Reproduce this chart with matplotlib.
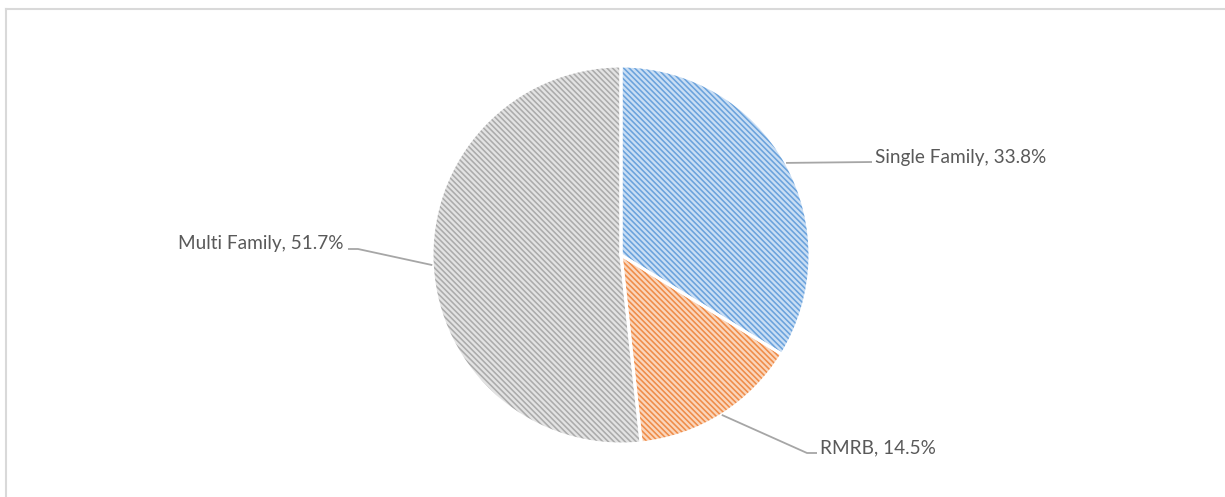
import numpy as np
import matplotlib
matplotlib.use("Agg")
import matplotlib.pyplot as plt
from matplotlib.lines import Line2D

categories = ["Single Family", "RMRB", "Multi Family"]
values = [33.8, 14.5, 51.7]
fill_colors = ["#c9def4", "#fad6bc", "#e3e3e3"]
hatch_colors = ["#6aa2dc", "#ef8c48", "#ababab"]

W, H = 1225, 497
plt.rcParams['hatch.linewidth'] = 1.15
fig = plt.figure(figsize=(W / 100, H / 100), dpi=100)
ax = fig.add_axes([0, 0, 1, 1])
ax.set_xlim(0, W)
ax.set_ylim(0, H)
ax.set_aspect('equal')
ax.axis('off')

cx, cy, R = 621, H - 255, 189

common = dict(startangle=90, counterclock=False, center=(cx, cy), radius=R)
w1, _ = ax.pie(values, colors=fill_colors, wedgeprops=dict(linewidth=0), **common)
w2, _ = ax.pie(values, colors=["none"] * 3,
               wedgeprops=dict(linewidth=0, fill=False), **common)
for w, hc in zip(w2, hatch_colors):
    w.set_hatch('\\' * 6)
    w.set_edgecolor(hc)
    w.set_linewidth(0)
w3, _ = ax.pie(values, colors=["none"] * 3,
               wedgeprops=dict(linewidth=2.2, edgecolor="white", fill=False), **common)
ax.set_xlim(0, W)
ax.set_ylim(0, H)

# leader lines and labels
line_kw = dict(color="#a6a6a6", lw=1.3, solid_capstyle="butt")
txt_kw = dict(fontsize=13.7, color="#595959", family="Lato", va="center")
pct = [f"{c}, {v:.1f}%" for c, v in zip(categories, values)]

anchors = []
for w in w1:
    mid = np.deg2rad((w.theta1 + w.theta2) / 2)
    anchors.append((cx + R * np.cos(mid), cy + R * np.sin(mid)))

# Single Family
ax.plot([anchors[0][0], 872], [anchors[0][1], H - 162], **line_kw)
ax.text(875, H - 158, pct[0], ha="left", **txt_kw)
# RMRB
ax.plot([anchors[1][0], 807, 817], [anchors[1][1], H - 453, H - 453], **line_kw)
ax.text(820, H - 448, pct[1], ha="left", **txt_kw)
# Multi Family
ax.plot([348, 358, anchors[2][0]], [H - 249, H - 249, anchors[2][1]], **line_kw)
ax.text(343, H - 243, pct[2], ha="right", **txt_kw)

# outer frame (only top and left visible)
fig.add_artist(Line2D([6 / W, 1.0], [1 - 9 / H, 1 - 9 / H], transform=fig.transFigure,
                      color="#d9d9d9", lw=1.5))
fig.add_artist(Line2D([6 / W, 6 / W], [0, 1 - 9 / H], transform=fig.transFigure,
                      color="#d9d9d9", lw=1.5))

fig.savefig("out.png", dpi=100, facecolor="white")
